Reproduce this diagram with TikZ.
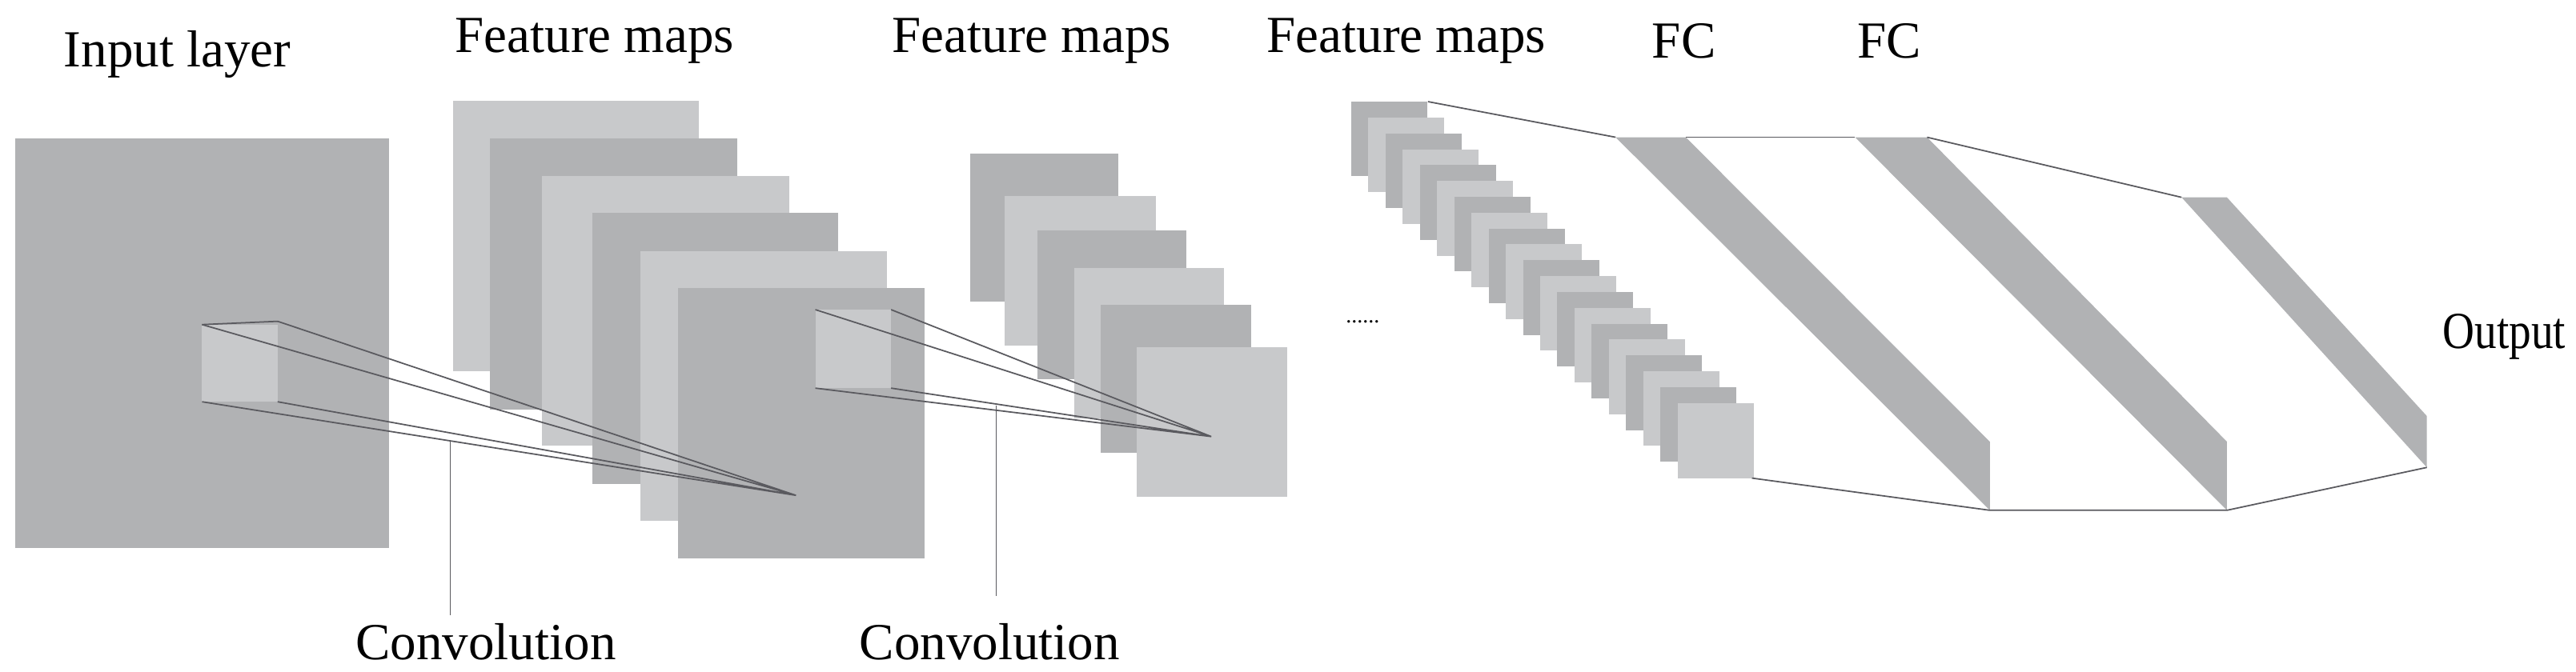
\documentclass[tikz,border=0pt]{standalone}
\usepackage{fontspec}
\setmainfont{Liberation Serif}
\begin{document}
\begin{tikzpicture}[x=0.020523cm,y=-0.020523cm,
  dk/.style={fill={rgb,255:red,177;green,178;blue,180}},
  lt/.style={fill={rgb,255:red,200;green,201;blue,203}},
  ln/.style={draw={rgb,255:red,90;green,90;blue,95},line width=0.5pt},
  lbl/.style={font=\fontsize{18.5}{20}\selectfont,inner sep=0pt}]
\useasboundingbox (0,0) rectangle (1568,409);
% input
\fill[dk] (9.2,84.1) rectangle (236.9,333.8);
% feature maps 1
\fill[lt] (275.8,61.4) rectangle (425.5,225.9);
\fill[dk] (298.4,84.1) rectangle (448.6,249.4);
\fill[lt] (329.7,107.1) rectangle (480.4,271.6);
\fill[dk] (360.4,129.8) rectangle (510.1,294.6);
\fill[lt] (389.7,152.8) rectangle (539.9,317.4);
\fill[dk] (412.7,175.5) rectangle (562.9,340.3);
% feature maps 2
\fill[dk] (590.6,93.5) rectangle (680.9,183.6);
\fill[lt] (611.7,119.4) rectangle (703.4,210.3);
\fill[dk] (631.7,140.5) rectangle (721.9,231.2);
\fill[lt] (653.7,163.3) rectangle (745,254.7);
\fill[dk] (670.1,185.5) rectangle (761.4,275.6);
\fill[lt] (692.1,211.6) rectangle (783.4,302.5);
% kernel 1
\fill[lt] (123,197.7) rectangle (169,244.7);
\coordinate (ap1) at (484.5,301.7);
\draw[ln] (123,197.7) -- (ap1) (169,195.7) -- (ap1) (123,244.7) -- (ap1) (169,244.7) -- (ap1);
\draw[ln] (123,197.7) -- (169,195.7);
% kernel 2
\fill[lt] (496.3,188.6) rectangle (542.4,236.4);
\coordinate (ap2) at (737.3,265.9);
\draw[ln] (496.3,188.6) -- (ap2) (542.4,188.6) -- (ap2) (496.3,236.4) -- (ap2) (542.4,236.4) -- (ap2);
% convolution labels
\node[lbl] (c1) at (295.8,391) {Convolution};
\draw[ln,line width=0.3pt] (274.3,269) -- (274.3,374.8);
\node[lbl] (c2) at (602.4,391) {Convolution};
\draw[ln,line width=0.3pt] (606.5,246.8) -- (606.5,363);
% feature maps 3 stack
\foreach \i in {0,...,19}{
  \pgfmathsetmacro{\xa}{822.4+10.46*\i}
  \pgfmathsetmacro{\ya}{61.9+9.66*\i}
  \pgfmathtruncatemacro{\p}{mod(\i,2)}
  \ifnum\p=0 \fill[dk] (\xa,\ya) rectangle ++(46.3,45.5);
  \else \fill[lt] (\xa,\ya) rectangle ++(46.3,45.5); \fi
}
\fill[lt] (1021.1,245.5) rectangle (1066.4,291.2);
\node[font=\fontsize{8}{8}\selectfont,inner sep=0pt] (dots) at (829.5,196) {......};
% FC bands
\fill[dk] (983.4,83.6) -- (1026.1,83.6) -- (1211.2,269) -- (1211.2,310.8) -- cycle;
\fill[dk] (1129.2,83.6) -- (1173,83.6) -- (1355.5,269) -- (1355.5,310.8) -- cycle;
\fill[dk] (1327.9,120.2) -- (1355.5,120.2) -- (1477.2,253.4) -- (1477.2,284.7) -- cycle;
\draw[ln] (869.2,61.9) -- (983.4,83.6);
\draw[ln] (1026.1,83.6) -- (1129.2,83.6);
\draw[ln] (1173,83.6) -- (1327.9,120.2);
\draw[ln] (1066.4,291.2) -- (1211.2,310.8) -- (1355.5,310.8) -- (1477.2,284.7);
% titles
\node[lbl] (t1) at (108,33) {Input layer};
\node[lbl] (t2) at (362,25) {Feature maps};
\node[lbl] (t3) at (628,25) {Feature maps};
\node[lbl] (t4) at (856,25) {Feature maps};
\node[lbl] (t5) at (1025,25) {FC};
\node[lbl] (t6) at (1150,25) {FC};
\node[lbl,anchor=east,xscale=0.85] (t7) at (1562,205) {Output};
\end{tikzpicture}
\end{document}
